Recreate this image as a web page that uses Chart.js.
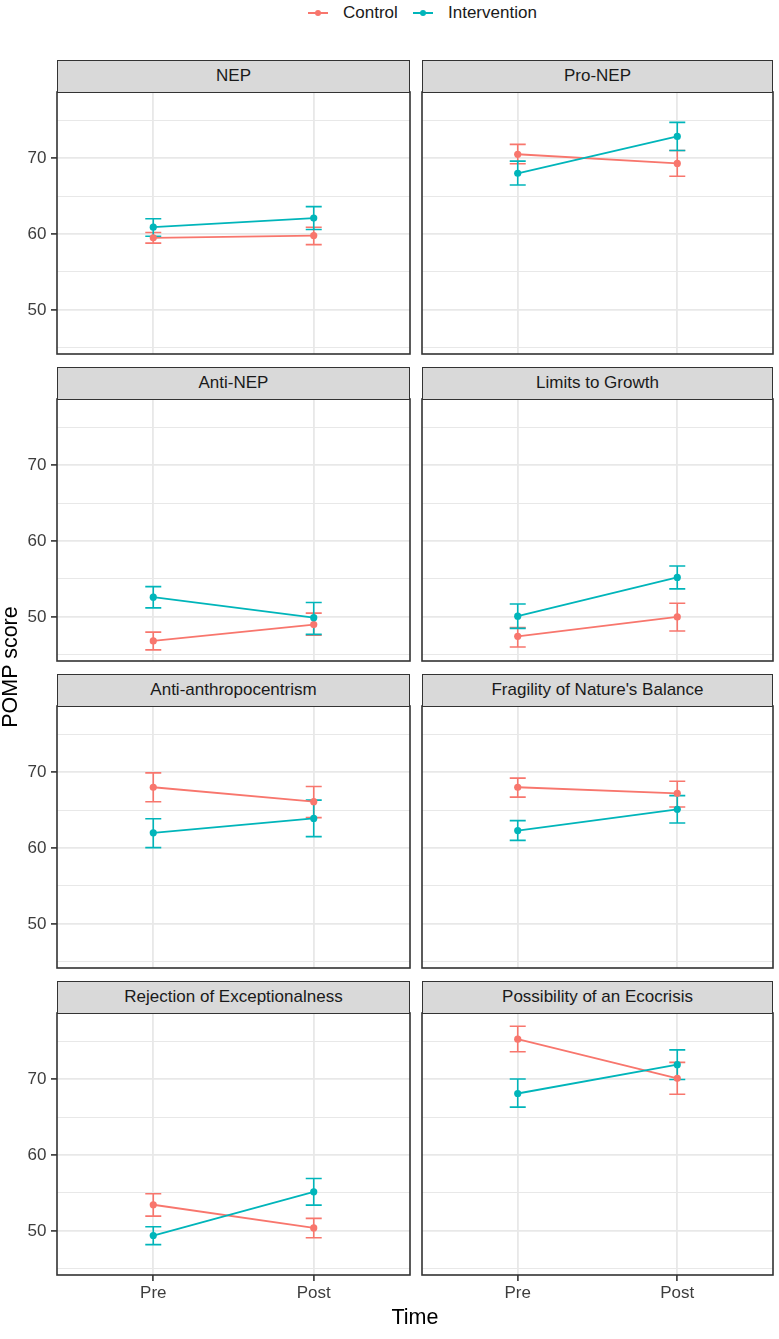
<!DOCTYPE html>
<html lang="en">
<head>
<meta charset="UTF-8">
<title>POMP score by time and group</title>
<script src="https://cdn.jsdelivr.net/npm/chart.js@4.4.0/dist/chart.umd.min.js"></script>
<style>
  body {
    margin: 0;
    width: 779px;
    height: 1339px;
    position: relative;
    overflow: hidden;
    background: #fff;
    font-family: "Liberation Sans", Arial, sans-serif;
  }
  .panel { position: absolute; }
  .strip {
    position: absolute;
    box-sizing: border-box;
    background: #d9d9d9;
    border: 1.6px solid #333;
    color: #1a1a1a;
    font-size: 17px;
    display: flex;
    align-items: center;
    justify-content: center;
  }
  .legend-key { position: absolute; width: 20px; height: 8px; }
  .legend-key .ln { position: absolute; left: 0; right: 0; top: 3.1px; height: 1.8px; }
  .legend-key .dot { position: absolute; left: 6.6px; top: 0.6px; width: 6.8px; height: 6.8px; border-radius: 50%; }
  .legend-text { position: absolute; font-size: 17px; color: #1a1a1a; line-height: 20px; }
  .axis-title { position: absolute; font-size: 21.5px; color: #000; text-align: center; }
</style>
</head>
<body>
<script>
// facet titles (row by row, left to right)
const facets = [
  'NEP', 'Pro-NEP',
  'Anti-NEP', 'Limits to Growth',
  'Anti-anthropocentrism', "Fragility of Nature's Balance",
  'Rejection of Exceptionalness', 'Possibility of an Ecocrisis'
];
const timePoints = ['Pre', 'Post'];
const groups = ['Control', 'Intervention'];
const groupColors = ['#F8766D', '#00B5BA'];

// means and error bar ends, [Pre, Post] per facet
const controlMean = [
  [59.5, 59.8], [70.5, 69.3], [46.85, 49.0], [47.45, 50.0],
  [68.0, 66.1], [68.0, 67.2], [53.45, 50.4], [75.25, 70.1]
];
const controlLow = [
  [58.8, 58.6], [69.25, 67.6], [45.66, 47.6], [46.05, 48.15],
  [66.1, 64.0], [66.7, 65.4], [51.95, 49.1], [73.6, 68.0]
];
const controlHigh = [
  [60.2, 60.9], [71.8, 71.0], [48.0, 50.5], [48.6, 51.8],
  [69.9, 68.1], [69.2, 68.8], [54.9, 51.65], [76.95, 72.2]
];
const interventionMean = [
  [60.9, 62.1], [68.0, 72.85], [52.6, 49.9], [50.1, 55.2],
  [62.0, 63.9], [62.3, 65.1], [49.4, 55.15], [68.1, 71.9]
];
const interventionLow = [
  [59.7, 60.6], [66.45, 71.0], [51.2, 47.7], [48.5, 53.7],
  [60.05, 61.5], [61.0, 63.3], [48.2, 53.4], [66.3, 69.95]
];
const interventionHigh = [
  [62.0, 63.6], [69.6, 74.7], [54.0, 51.9], [51.7, 56.7],
  [63.85, 66.3], [63.6, 66.9], [50.55, 56.9], [70.0, 73.85]
];

const yMajor = [50, 60, 70];
const yMinor = [45, 55, 65, 75];
const yMin = 44.2, yMax = 78.7;

// layout of the facet grid (page pixels)
const PLOT_LEFT = [57, 422];
const PLOT_W = [353, 351];
const PLOT_TOP0 = 92, ROW_PITCH = 307, PLOT_H = 262, STRIP_H = 32.5;
const Y_AXIS_W = 54, X_AXIS_H = 36, PAD = 3;
const CAP = 8;

const FONT = 'Liberation Sans, Arial, sans-serif';

// error bars under the lines, frame over everything
const errorBarsAndFrame = {
  id: 'errorBarsAndFrame',
  beforeDatasetsDraw(chart) {
    const { ctx, scales: { x, y } } = chart;
    ctx.save();
    ctx.lineWidth = 1.6;
    chart.data.datasets.forEach(ds => {
      ctx.strokeStyle = ds.borderColor;
      ds.lows.forEach((lo, k) => {
        const px = x.getPixelForValue(k + 1);
        const yl = y.getPixelForValue(lo);
        const yh = y.getPixelForValue(ds.highs[k]);
        ctx.beginPath();
        ctx.moveTo(px, yl); ctx.lineTo(px, yh);
        ctx.moveTo(px - CAP, yl); ctx.lineTo(px + CAP, yl);
        ctx.moveTo(px - CAP, yh); ctx.lineTo(px + CAP, yh);
        ctx.stroke();
      });
    });
    ctx.restore();
  },
  afterDraw(chart) {
    const { ctx, chartArea: a } = chart;
    ctx.save();
    ctx.strokeStyle = '#333';
    ctx.lineWidth = 1.6;
    ctx.strokeRect(a.left, a.top, a.right - a.left, a.bottom - a.top);
    ctx.restore();
  }
};

function makeDataset(g, i, means, lows, highs) {
  return {
    label: groups[g],
    data: timePoints.map((t, k) => ({ x: k + 1, y: means[i][k] })),
    lows: lows[i],
    highs: highs[i],
    borderColor: groupColors[g],
    backgroundColor: groupColors[g],
    borderWidth: 1.8,
    pointRadius: 3.6,
    pointBorderWidth: 0,
    pointHoverRadius: 3.6,
    tension: 0,
    order: g === 0 ? 2 : 1
  };
}

function addPanel(i) {
  const row = Math.floor(i / 2), col = i % 2;
  const showY = col === 0, showX = row === facets.length / 2 - 1;
  const plotTop = PLOT_TOP0 + row * ROW_PITCH;
  const axW = showY ? Y_AXIS_W : 0;
  const axH = showX ? X_AXIS_H : 0;

  const strip = document.createElement('div');
  strip.className = 'strip';
  strip.style.left = PLOT_LEFT[col] + 'px';
  strip.style.top = (plotTop - STRIP_H) + 'px';
  strip.style.width = PLOT_W[col] + 'px';
  strip.style.height = (STRIP_H + 1) + 'px';
  strip.textContent = facets[i];

  const box = document.createElement('div');
  box.className = 'panel';
  box.style.left = (PLOT_LEFT[col] - axW - PAD) + 'px';
  box.style.top = (plotTop - PAD) + 'px';
  box.style.width = (axW + PLOT_W[col] + 2 * PAD) + 'px';
  box.style.height = (PLOT_H + axH + 2 * PAD) + 'px';
  const canvas = document.createElement('canvas');
  box.appendChild(canvas);
  document.body.appendChild(box);
  document.body.appendChild(strip);

  new Chart(canvas, {
    type: 'line',
    data: {
      datasets: [
        makeDataset(0, i, controlMean, controlLow, controlHigh),
        makeDataset(1, i, interventionMean, interventionLow, interventionHigh)
      ]
    },
    options: {
      responsive: true,
      maintainAspectRatio: false,
      animation: false,
      events: [],
      layout: { padding: PAD, autoPadding: false },
      plugins: { legend: { display: false }, tooltip: { enabled: false } },
      scales: {
        x: {
          type: 'linear',
          min: 0.4,
          max: 2.6,
          border: { display: false },
          afterBuildTicks: s => { s.ticks = timePoints.map((t, k) => ({ value: k + 1 })); },
          afterFit: s => { s.height = axH; s.paddingLeft = 0; s.paddingRight = 0; },
          grid: {
            color: '#e8e8e8',
            lineWidth: 1.8,
            drawTicks: showX,
            tickLength: 6,
            tickColor: '#333',
            tickWidth: 1.6
          },
          ticks: {
            display: showX,
            padding: 2,
            color: '#3d3d3d',
            font: { family: FONT, size: 17 },
            maxRotation: 0,
            callback: v => timePoints[v - 1]
          }
        },
        y: {
          type: 'linear',
          min: yMin,
          max: yMax,
          border: { display: false },
          afterBuildTicks: s => {
            s.ticks = yMinor.concat(yMajor).sort((a, b) => a - b).map(v => ({ value: v }));
          },
          afterFit: s => { s.width = axW; s.paddingTop = 0; s.paddingBottom = 0; },
          grid: {
            color: '#e8e8e8',
            lineWidth: c => yMajor.includes(c.tick && c.tick.value) ? 1.8 : 1,
            drawTicks: showY,
            tickLength: 6,
            tickColor: c => yMajor.includes(c.tick && c.tick.value) ? '#333' : 'rgba(0,0,0,0)',
            tickWidth: 1.6
          },
          ticks: {
            display: showY,
            padding: 4.5,
            color: '#3d3d3d',
            font: { family: FONT, size: 17 },
            callback: v => yMajor.includes(v) ? String(v) : ''
          }
        }
      }
    },
    plugins: [errorBarsAndFrame]
  });
}

facets.forEach((f, i) => addPanel(i));

// legend on top
const LEGEND_KEY_X = [308, 413];
groups.forEach((g, j) => {
  const key = document.createElement('div');
  key.className = 'legend-key';
  key.style.left = LEGEND_KEY_X[j] + 'px';
  key.style.top = '9px';
  key.innerHTML = '<div class="ln"></div><div class="dot"></div>';
  key.querySelector('.ln').style.background = groupColors[j];
  key.querySelector('.dot').style.background = groupColors[j];
  document.body.appendChild(key);
  const txt = document.createElement('div');
  txt.className = 'legend-text';
  txt.style.left = (LEGEND_KEY_X[j] + 35) + 'px';
  txt.style.top = '3px';
  txt.textContent = g;
  document.body.appendChild(txt);
});

// axis titles
const xTitle = document.createElement('div');
xTitle.className = 'axis-title';
xTitle.style.left = PLOT_LEFT[0] + 'px';
xTitle.style.width = (PLOT_LEFT[1] + PLOT_W[1] - PLOT_LEFT[0]) + 'px';
xTitle.style.top = '1304px';
xTitle.style.lineHeight = '26px';
xTitle.textContent = 'Time';
document.body.appendChild(xTitle);

const yTitle = document.createElement('div');
yTitle.className = 'axis-title';
yTitle.style.width = '300px';
yTitle.style.height = '26px';
yTitle.style.lineHeight = '26px';
yTitle.style.left = (10 - 150) + 'px';
yTitle.style.top = (667 - 13) + 'px';
yTitle.style.transform = 'rotate(-90deg)';
yTitle.textContent = 'POMP score';
document.body.appendChild(yTitle);
</script>
</body>
</html>
